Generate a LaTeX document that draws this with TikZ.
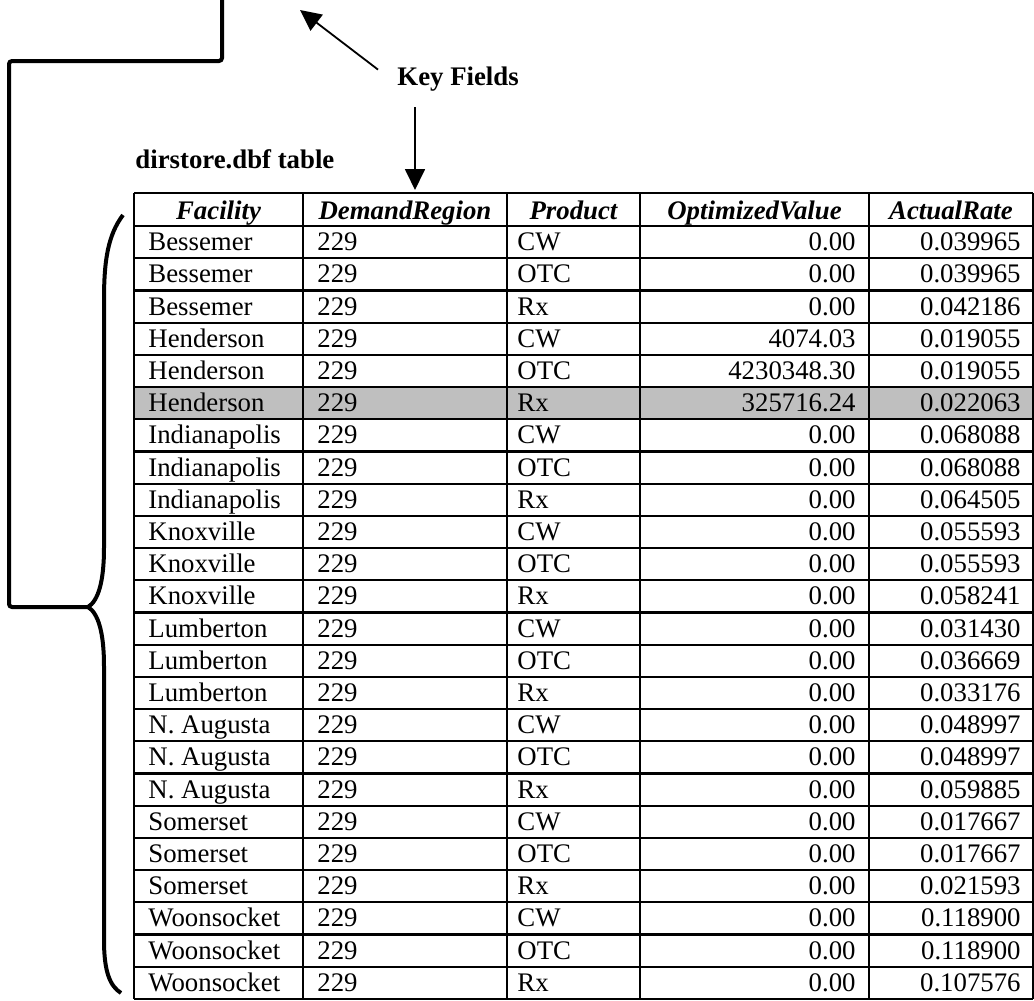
\documentclass[tikz,border=0pt]{standalone}
\usepackage{fontspec}
\setmainfont{Liberation Serif}
\usepackage{tikz}
\usetikzlibrary{positioning,arrows.meta}

\begin{document}
\begin{tikzpicture}[x=0.5pt,y=-0.5pt]
\tikzstyle{cell}=[inner sep=0pt, font=\fontsize{13.4}{16}\selectfont]
\tikzstyle{head}=[cell, anchor=base, font=\fontsize{13.4}{16}\selectfont\bfseries\itshape]
\tikzstyle{title}=[inner sep=0pt, anchor=base west, font=\fontsize{13.4}{16}\selectfont\bfseries]
\tikzstyle{grid}=[line width=1.1pt]
\tikzstyle{connect}=[-{Triangle[length=10.5pt,width=10pt]}, line width=0.9pt]
\tikzstyle{link}=[line width=2pt, rounded corners=1.5pt]

\useasboundingbox (0,0) rectangle (1034,1001);

  \node[title] (keyfields) at (397,85) {Key Fields};
  \node[title] (tablename) at (135,168) {dirstore.dbf table};

  \coordinate (keyaim) at (300,10);
  \coordinate (keytip) at (415,190);
  \draw[connect] ([shift={(-19,-9)}]keyfields.west) -- (keyaim);
  \draw[connect] ([shift={(18,16)}]keyfields.south west) -- (keytip);

% highlighted row
\fill[black!25] (134,{226+5*32.2}) rectangle (1033,{226+6*32.2});

% grid
\foreach \k in {0,...,24}
  \draw[grid] (134,226+\k*32.2) -- (1033,226+\k*32.2);
\draw[grid] (134,193) -- (1033,193);
\foreach \c in {134,303,507,640,869,1033}
  \draw[grid] (\c,193) -- (\c,999);

  \node[head] (hfac) at (218.5,219) {Facility};
  \node[head] (hreg) at (405,219) {DemandRegion};
  \node[head] (hprd) at (573.5,219) {Product};
  \node[head] (hopt) at (754.5,219) {OptimizedValue};
  \node[head] (hrate) at (951,219) {ActualRate};

\foreach \fac/\prd/\opt/\rate [count=\i] in {
  Bessemer/CW/0.00/0.039965, Bessemer/OTC/0.00/0.039965, Bessemer/Rx/0.00/0.042186,
  Henderson/CW/4074.03/0.019055, Henderson/OTC/4230348.30/0.019055, Henderson/Rx/325716.24/0.022063,
  Indianapolis/CW/0.00/0.068088, Indianapolis/OTC/0.00/0.068088, Indianapolis/Rx/0.00/0.064505,
  Knoxville/CW/0.00/0.055593, Knoxville/OTC/0.00/0.055593, Knoxville/Rx/0.00/0.058241,
  Lumberton/CW/0.00/0.031430, Lumberton/OTC/0.00/0.036669, Lumberton/Rx/0.00/0.033176,
  N. Augusta/CW/0.00/0.048997, N. Augusta/OTC/0.00/0.048997, N. Augusta/Rx/0.00/0.059885,
  Somerset/CW/0.00/0.017667, Somerset/OTC/0.00/0.017667, Somerset/Rx/0.00/0.021593,
  Woonsocket/CW/0.00/0.118900, Woonsocket/OTC/0.00/0.118900, Woonsocket/Rx/0.00/0.107576}
{
  \pgfmathsetmacro\yb{226+\i*32.2-7.5}
  \node[cell, anchor=base west] (fac\i) at (148,\yb) {\fac};
  \node[cell, anchor=base west] (reg\i) at (317,\yb) {229};
  \node[cell, anchor=base west] (prd\i) at (517,\yb) {\prd};
  \node[cell, anchor=base east] (opt\i) at (856,\yb) {\opt};
  \node[cell, anchor=base east] (rate\i) at (1021,\yb) {\rate};
}

% brace and link to it
\coordinate (bracetip) at (88,607);
\coordinate (linetop) at (222,-4);
\coordinate (linecorner) at (9,61);
\draw[link] (linetop) |- (linecorner) |- (bracetip);
\draw[line width=2pt] (123,215) .. controls (108,235) and (104,260) .. (104,300) -- (104,548)
  .. controls (104,582) and (98,601) .. (bracetip)
  .. controls (98,613) and (104,632) .. (104,666) -- (104,940)
  .. controls (104,972) and (110,986) .. (121,993);
\end{tikzpicture}
\end{document}
